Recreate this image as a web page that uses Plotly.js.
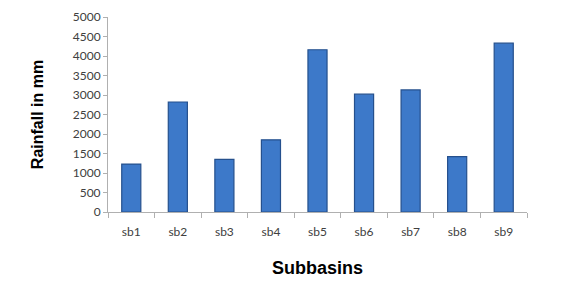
<!DOCTYPE html>
<html><head><meta charset="utf-8">
<script src="https://cdn.plot.ly/plotly-3.0.1.min.js"></script>
<style>html,body{margin:0;padding:0;background:#fff}#c{width:563px;height:291px}</style>
</head><body><div id="c"></div>
<script>
const categories = ['sb1','sb2','sb3','sb4','sb5','sb6','sb7','sb8','sb9'];
const rainfall = [1230, 2820, 1350, 1850, 4160, 3020, 3130, 1420, 4330];
const yTicks = [0,500,1000,1500,2000,2500,3000,3500,4000,4500,5000];

const trace = {
  type: 'bar', x: categories, y: rainfall,
  marker: {color: '#3d79c9', line: {color: '#25508d', width: 1.2}},
  hoverinfo: 'none'
};
const layout = {
  width: 563, height: 291,
  margin: {l: 108, r: 36, t: 17, b: 79},
  paper_bgcolor: '#fff', plot_bgcolor: '#fff',
  showlegend: false, bargap: 0.59,
  font: {family: 'Lato, "Open Sans", sans-serif', color: '#404040', size: 11},
  xaxis: {
    type: 'category', showline: true, linecolor: '#b0b0b0', linewidth: 1,
    ticks: 'outside', ticklen: 5, tickcolor: '#b0b0b0', tickson: 'boundaries',
    showgrid: false, zeroline: false, ticklabelstandoff: 9,
    tickfont: {size: 12, color: '#404040'},
    title: {text: 'Subbasins', font: {family: 'Liberation Sans, Arial, sans-serif', size: 18, color: '#000', weight: 'bold'}, standoff: 22}
  },
  yaxis: {
    range: [0, 5000], tickvals: yTicks, showline: true, linecolor: '#b0b0b0', linewidth: 1,
    ticks: 'outside', ticklen: 4, tickcolor: '#b0b0b0', showgrid: false, zeroline: false,
    tickfont: {size: 12, color: '#404040'},
    title: {text: 'Rainfall in mm', font: {family: 'Liberation Sans, Arial, sans-serif', size: 16, color: '#000', weight: 'bold'}, standoff: 25}
  }
};
Plotly.newPlot('c', [trace], layout, {displayModeBar: false, staticPlot: true});
</script></body></html>
